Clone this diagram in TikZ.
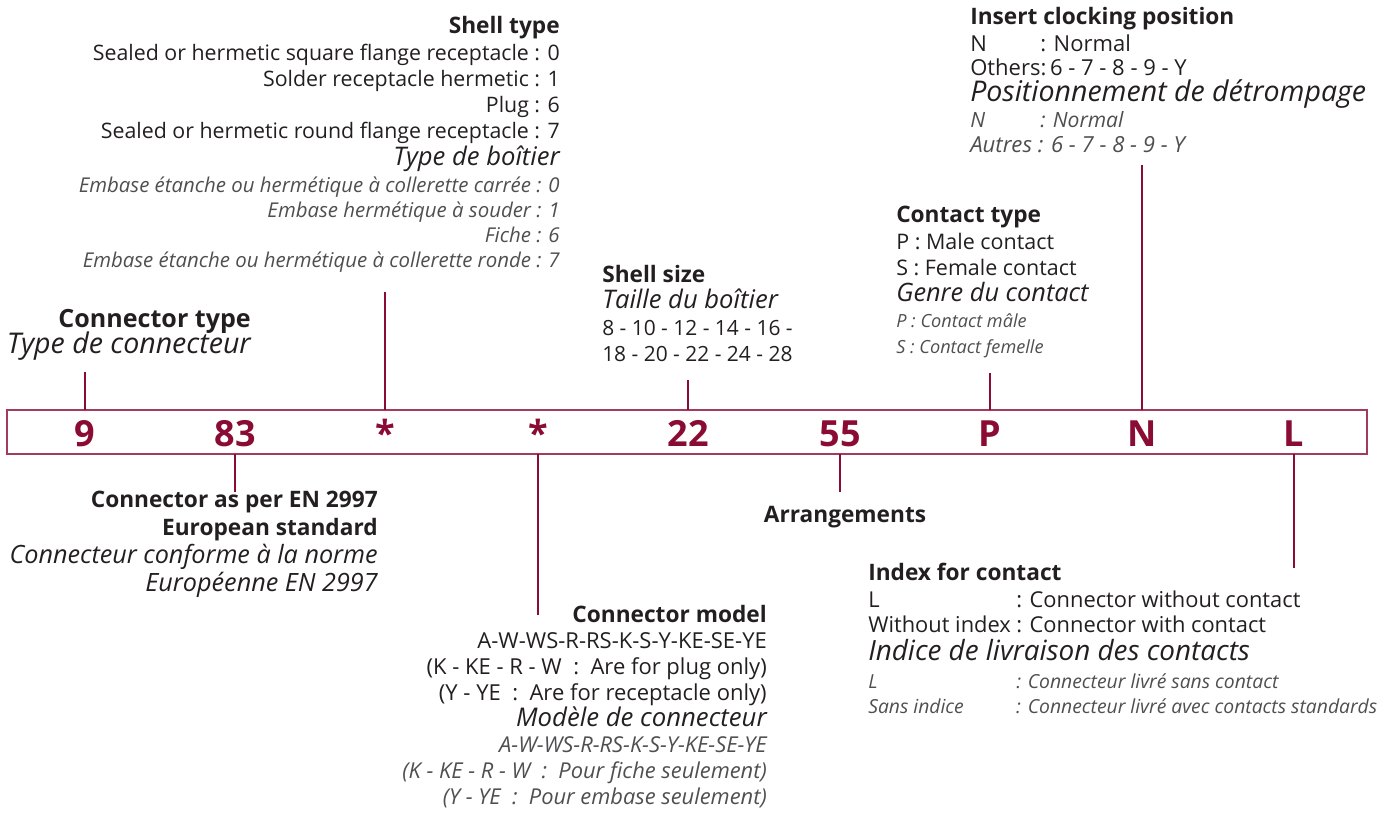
\documentclass[tikz,border=0pt]{standalone}
\usepackage{fontspec}
\setmainfont{Open Sans}
\definecolor{brand}{HTML}{8A0B33}
\definecolor{ink}{HTML}{231F20}
\definecolor{inkgray}{HTML}{4F4F51}
\tikzset{
    codetxt/.style={font=\fontsize{27}{30}\selectfont\bfseries, text=brand, anchor=base, inner sep=0pt},
    title/.style={font=\fontsize{#1}{20}\selectfont\bfseries, text=ink, inner sep=0pt},
    title/.default=17,
    reg/.style={font=\fontsize{#1}{18}\selectfont, text=ink, inner sep=0pt},
    reg/.default=16,
    ital/.style={font=\fontsize{#1}{20}\selectfont\itshape, text=ink, inner sep=0pt},
    ital/.default=19.2,
    small/.style={font=\fontsize{#1}{16}\selectfont\itshape, text=inkgray, inner sep=0pt},
    small/.default=15.3,
    lead/.style={draw=brand, line width=2.2pt},
    frame/.style={draw=brand!80, line width=1.4pt}
}
\begin{document}
\begin{tikzpicture}[x=0.75pt, y=-0.75pt]
    \useasboundingbox (0,0) rectangle (1395,813);
    % Code frame
    \coordinate (fnw) at (7,410);
    \coordinate (fse) at (1367,454);
    \draw [frame] (fnw) rectangle (fse);
    % Codes
    \node [codetxt] (c9)  at (85,446)   {9};
    \node [codetxt] (c83) at (235,446)  {83};
    \node [codetxt] (cs1) at (385,446)  {*};
    \node [codetxt] (cs2) at (538,446)  {*};
    \node [codetxt] (c22) at (688,446)  {22};
    \node [codetxt] (c55) at (840,446)  {55};
    \node [codetxt] (cP)  at (990,446)  {P};
    \node [codetxt] (cN)  at (1142,446) {N};
    \node [codetxt] (cL)  at (1294,446) {L};
    % Leader ends
    \coordinate (t9)  at (85,372);
    \coordinate (ts1) at (385,292);
    \coordinate (t22) at (688,380);
    \coordinate (tP)  at (990,373);
    \coordinate (tN)  at (1142,165);
    \coordinate (t83) at (235,492);
    \coordinate (ts2) at (538,615);
    \coordinate (t55) at (840,492);
    \coordinate (tL)  at (1294,568);
    % Leaders
    \draw [lead] (c9 |- fnw) -- (t9);
    \draw [lead] (cs1 |- fnw) -- (ts1);
    \draw [lead] (c22 |- fnw) -- (t22);
    \draw [lead] (cP |- fnw) -- (tP);
    \draw [lead] (cN |- fnw) -- (tN);
    \draw [lead] (c83 |- fse) -- (t83);
    \draw [lead] (cs2 |- fse) -- (ts2);
    \draw [lead] (c55 |- fse) -- (t55);
    \draw [lead] (cL |- fse) -- (tL);

    % Connector type
    \node [title=18.8, anchor=base east] (ctype) at (251,327) {Connector type};
    \node [ital=21.4, anchor=base east] (ctypeFr) at (251,353) {Type de connecteur};

    % Shell type
    \node [title, anchor=base east] (stype) at (560,34) {Shell type};
    \foreach \t [count=\i] in {{Sealed or hermetic square flange receptacle : 0},
        {Solder receptacle hermetic : 1}, {Plug : 6},
        {Sealed or hermetic round flange receptacle : 7}}
        \node [reg, anchor=base east] (stypeEn\i) at (560,35+26*\i) {\t};
    \node [ital, anchor=base east] (stypeFr) at (560,166) {Type de boîtier};
    \foreach \t [count=\i] in {{Embase étanche ou hermétique à collerette carrée : 0},
        {Embase hermétique à souder : 1}, {Fiche : 6},
        {Embase étanche ou hermétique à collerette ronde : 7}}
        \node [small, anchor=base east] (stypeFr\i) at (560,167+25*\i) {\t};

    % Shell size
    \node [title, anchor=base west] (ssize) at (602,282) {Shell size};
    \node [ital, anchor=base west] (ssizeFr) at (602,308) {Taille du boîtier};
    \node [reg=15.7, anchor=base west] (ssize1) at (602,335) {8 - 10 - 12 - 14 - 16 -};
    \node [reg=15.7, anchor=base west] (ssize2) at (602,361) {18 - 20 - 22 - 24 - 28};

    % Contact type
    \node [title, anchor=base west] (ctc) at (896,222) {Contact type};
    \node [reg=16.1, anchor=base west] (ctc1) at (896,249) {P : Male contact};
    \node [reg=16.1, anchor=base west] (ctc2) at (896,275) {S : Female contact};
    \node [ital=19, anchor=base west] (ctcFr) at (896,301) {Genre du contact};
    \node [small=13.6, anchor=base west] (ctcFr1) at (896,327) {P : Contact mâle};
    \node [small=13.6, anchor=base west] (ctcFr2) at (896,353) {S : Contact femelle};

    % Insert clocking position
    \node [title, anchor=base west] (clk) at (970,25) {Insert clocking position};
    \node [reg=16.5, anchor=base west] (clk1) at (970,52) {\makebox[52.5pt][l]{N}: Normal};
    \node [reg=16.5, anchor=base west] (clk2) at (970,76) {Others:\,6 - 7 - 8 - 9 - Y};
    \node [ital=21.4, anchor=base west] (clkFr) at (970,102) {Positionnement de détrompage};
    \node [small=15.8, anchor=base west] (clkFr1) at (970,128) {\makebox[52.5pt][l]{N}: Normal};
    \node [small=16.6, anchor=base west] (clkFr2) at (970,152) {Autres : 6 - 7 - 8 - 9 - Y};

    % Connector as per EN 2997
    \node [title, anchor=base east] (std) at (378,507) {Connector as per EN 2997};
    \node [title, anchor=base east] (std2) at (378,535) {European standard};
    \node [ital=18.9, anchor=base east] (stdFr) at (378,563) {Connecteur conforme à la norme};
    \node [ital=18.9, anchor=base east] (stdFr2) at (378,591) {Européenne EN 2997};

    % Arrangements
    \node [title, anchor=base] (arr) at (845,522) {Arrangements};

    % Connector model
    \node [title, anchor=base east] (model) at (767,622) {Connector model};
    \foreach \t [count=\i] in {{A-W-WS-R-RS-K-S-Y-KE-SE-YE},
        {(K - KE - R - W~~:~~Are for plug only)},
        {(Y - YE~~:~~Are for receptacle only)}}
        \node [reg=16.5, anchor=base east] (modelEn\i) at (767,622+26*\i) {\t};
    \node [ital=19.3, anchor=base east] (modelFr) at (767,726) {Modèle de connecteur};
    \foreach \t [count=\i] in {{A-W-WS-R-RS-K-S-Y-KE-SE-YE},
        {(K - KE - R - W~~:~~Pour fiche seulement)},
        {(Y - YE~~:~~Pour embase seulement)}}
        \node [small=16.4, anchor=base east] (modelFr\i) at (767,726+26*\i) {\t};

    % Index for contact
    \node [title, anchor=base west] (idx) at (868,580) {Index for contact};
    \node [reg=16.4, anchor=base west] (idx1) at (868,607) {\makebox[111pt][l]{L}: Connector without contact};
    \node [reg=16.4, anchor=base west] (idx2) at (868,632) {\makebox[111pt][l]{Without index}: Connector with contact};
    \node [ital=20.9, anchor=base west] (idxFr) at (868,660) {Indice de livraison des contacts};
    \node [small=14.5, anchor=base west] (idxFr1) at (868,688) {\makebox[111pt][l]{L}: Connecteur livré sans contact};
    \node [small=14.5, anchor=base west] (idxFr2) at (868,713) {\makebox[111pt][l]{Sans indice}: Connecteur livré avec contacts standards};
\end{tikzpicture}
\end{document}
